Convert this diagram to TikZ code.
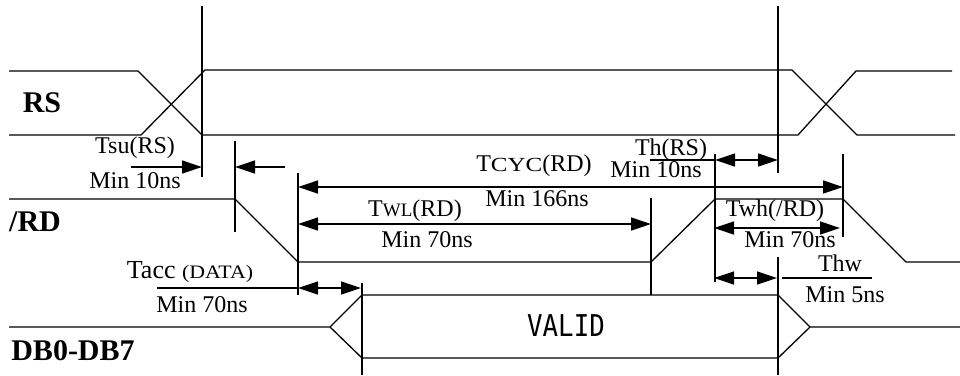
\documentclass[tikz,border=0pt]{standalone}
\usepackage{fontspec}
\setmainfont{Liberation Serif}
\newfontfamily\validfont{DejaVu Sans Mono}
\usetikzlibrary{arrows.meta}
\tikzset{
  wave/.style={line width=1.3pt, line join=miter},
  tick/.style={line width=1.3pt},
  dim/.style={line width=1.3pt, {Triangle[length=20pt,width=13pt]}-{Triangle[length=20pt,width=13pt]}},
  dimr/.style={line width=1.3pt, -{Triangle[length=20pt,width=13pt]}},
  lbl/.style={inner sep=0pt, font=\fontsize{24}{26}\selectfont},
  sig/.style={inner sep=0pt, font=\fontsize{30}{32}\selectfont\bfseries},
}
\newcommand{\smx}[3]{\scalebox{#2}[1]{\fontsize{#1}{#1}\selectfont #3}}
\begin{document}
\begin{tikzpicture}[x=1pt,y=-1pt]
\useasboundingbox (0,0) rectangle (960,375);
% signal names
\node[sig] (rs) at (42,103) {RS};
\node[sig] (rd) at (35,222) {/RD};
\node[sig] (db) at (73,351) {DB0-DB7};
% RS waveform
\draw[wave] (9,71) -- (138,71) -- (202,135) -- (798,135) -- (856,71) -- (952,71);
\draw[wave] (9,135) -- (141,135) -- (205,70) -- (792,70) -- (857,135) -- (955,135);
% /RD waveform
\draw[wave] (9,199) -- (235,199) -- (298,262) -- (651,262) -- (715,199) -- (843,199) -- (906,262) -- (960,262);
% DB waveform
\draw[wave] (9,327) -- (330,327) -- (362,295) -- (778,295) -- (810,327) -- (960,327);
\draw[wave] (330,327) -- (362,358) -- (778,358) -- (810,327);
\node[inner sep=0pt, font=\validfont\fontsize{30}{32}\selectfont, xscale=0.86] (valid) at (566,326) {VALID};
% reference ticks
\coordinate (v1a) at (202,6);   \coordinate (v1b) at (202,177);
\coordinate (v2a) at (778,6);   \coordinate (v2b) at (778,173);
\coordinate (v3a) at (235,141); \coordinate (v3b) at (235,232);
\coordinate (v4a) at (298,173); \coordinate (v4b) at (298,295);
\coordinate (v5a) at (843,154); \coordinate (v5b) at (843,237);
\coordinate (v6a) at (651,198); \coordinate (v6b) at (651,295);
\coordinate (v7a) at (715,154); \coordinate (v7b) at (715,282);
\coordinate (v8a) at (362,283); \coordinate (v8b) at (362,375);
\coordinate (v9a) at (778,257); \coordinate (v9b) at (778,375);
\foreach \v in {1,...,9} \draw[tick] (v\v a) -- (v\v b);
% Tsu(RS)
\coordinate (tsuL) at (131,167); \coordinate (tsuR) at (202,167);
\coordinate (tsuA) at (285,167); \coordinate (tsuB) at (235,167);
\draw[dimr] (tsuL) -- (tsuR);
\draw[dimr] (tsuA) -- (tsuB);
\node[lbl] (tsu) at (135,148) {Tsu(RS)};
\node[lbl] (tsumin) at (135,181) {Min 10ns};
% TCYC
\coordinate (cycL) at (298,187); \coordinate (cycR) at (843,187);
\draw[dim] (cycL) -- (cycR);
\node[lbl] (cyc) at (534,166) {T\smx{20}{1.25}{CYC}(RD)};
\node[lbl] (cycmin) at (537,199) {Min 166ns};
% TWL
\coordinate (wlL) at (298,224); \coordinate (wlR) at (651,224);
\draw[dim] (wlL) -- (wlR);
\node[lbl] (wl) at (415,211) {T\smx{19}{1}{WL}(RD)};
\node[lbl] (wlmin) at (427,240) {Min 70ns};
% Th(RS)
\coordinate (thE) at (650,160); \coordinate (thL) at (715,160); \coordinate (thR) at (778,160);
\draw[tick] (thE) -- (thL);
\draw[dim] (thL) -- (thR);
\node[lbl] (th) at (671,150) {Th(RS)};
\node[lbl] (thmin) at (656,170) {Min 10ns};
% Twh(/RD)
\coordinate (whL) at (714,228); \coordinate (whR) at (840,228);
\draw[dim] (whL) -- (whR);
\node[lbl] (wh) at (775,211) {Twh(/RD)};
\node[lbl] (whmin) at (790,240) {Min 70ns};
% Thw
\coordinate (hwL) at (714,278); \coordinate (hwR) at (777,278);
\coordinate (hwA) at (782,278); \coordinate (hwB) at (872,278);
\draw[dim] (hwL) -- (hwR);
\draw[tick] (hwA) -- (hwB);
\node[lbl] (hw) at (840,263) {Thw};
\node[lbl] (hwmin) at (845,295) {Min 5ns};
% Tacc
\coordinate (acE) at (157,288); \coordinate (acL) at (298,288); \coordinate (acR) at (361,288);
\draw[tick] (acE) -- (acL);
\draw[dim] (acL) -- (acR);
\node[lbl, font=\fontsize{26}{28}\selectfont] (acc) at (190,272) {Tacc \smx{19}{1.15}{(DATA)}};
\node[lbl] (accmin) at (202,305) {Min 70ns};
\end{tikzpicture}
\end{document}
